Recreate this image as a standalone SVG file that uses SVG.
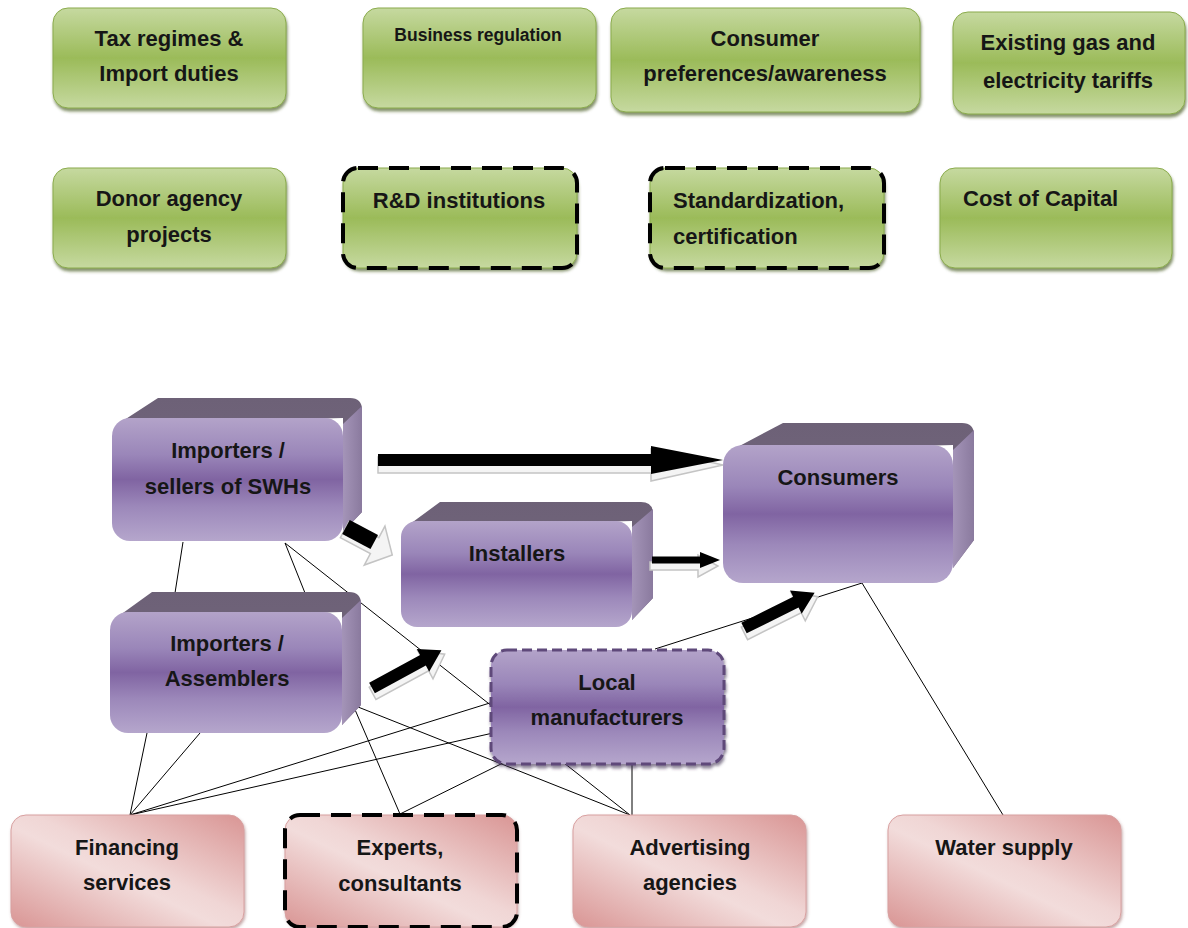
<svg xmlns="http://www.w3.org/2000/svg" width="1188" height="928" viewBox="0 0 1188 928">
<defs>
<style>
text{font-family:"Liberation Sans",Arial,sans-serif;font-weight:bold;font-size:22px;fill:#161616;}
.c{text-anchor:middle;}
.sm{font-size:17.5px;}
.g{fill:url(#gGreen);stroke:#8aab4c;stroke-width:1;filter:url(#shG);}
.p{fill:url(#gPink);stroke:#d8a0a0;stroke-width:1;filter:url(#shP);}
.dash{stroke:#000;stroke-width:4;stroke-dasharray:20 11;}
.front{fill:url(#gPurp);}
.top{fill:url(#gTop);}
.side{fill:url(#gSide);}
.ln{stroke:#000;stroke-width:1;fill:none;}
.ab{fill:#000;}
.as{fill:#f4f4f4;stroke:#c4c4c4;stroke-width:1.5;}
</style>
<linearGradient id="gGreen" x1="0" y1="0" x2="0" y2="1">
<stop offset="0" stop-color="#c6d9a0"/><stop offset="0.5" stop-color="#9bbb59"/><stop offset="1" stop-color="#c6d9a0"/>
</linearGradient>
<linearGradient id="gPink" x1="0" y1="1" x2="1" y2="0">
<stop offset="0" stop-color="#d99594"/><stop offset="0.45" stop-color="#f2dcdb"/><stop offset="0.55" stop-color="#f0d6d5"/><stop offset="1" stop-color="#d99594"/>
</linearGradient>
<linearGradient id="gPurp" x1="0" y1="0" x2="0" y2="1">
<stop offset="0" stop-color="#b3a3c9"/><stop offset="0.3" stop-color="#9a86b9"/><stop offset="0.5" stop-color="#8064a2"/><stop offset="0.72" stop-color="#9c88ba"/><stop offset="1" stop-color="#b5a6cc"/>
</linearGradient>
<linearGradient id="gTop" x1="0" y1="0" x2="0" y2="1">
<stop offset="0" stop-color="#6d6177"/><stop offset="1" stop-color="#75687f"/>
</linearGradient>
<linearGradient id="gSide" x1="0" y1="0" x2="1" y2="0">
<stop offset="0" stop-color="#a494b8"/><stop offset="1" stop-color="#8a7a9e"/>
</linearGradient>
<filter id="shG" x="-5%" y="-5%" width="112%" height="120%">
<feDropShadow dx="1" dy="3" stdDeviation="1.5" flood-color="#4f6228" flood-opacity="0.7"/>
</filter>
<filter id="shP" x="-5%" y="-5%" width="112%" height="120%">
<feDropShadow dx="1" dy="2" stdDeviation="1.5" flood-color="#8a5050" flood-opacity="0.5"/>
</filter>
<filter id="shL" x="-5%" y="-5%" width="112%" height="120%">
<feDropShadow dx="1" dy="3" stdDeviation="1.5" flood-color="#3f3151" flood-opacity="0.6"/>
</filter>
</defs>
<rect width="1188" height="928" fill="#fff"/>

<g id="connectors">
<line class="ln" x1="183" y1="542" x2="175" y2="593"/>
<line class="ln" x1="285" y1="543" x2="305" y2="593"/>
<line class="ln" x1="285" y1="543" x2="630" y2="815"/>
<line class="ln" x1="147" y1="733" x2="130" y2="815"/>
<line class="ln" x1="200" y1="733" x2="130" y2="815"/>
<line class="ln" x1="493" y1="702" x2="130" y2="815"/>
<line class="ln" x1="493" y1="733" x2="130" y2="815"/>
<line class="ln" x1="353" y1="705" x2="400" y2="814"/>
<line class="ln" x1="353" y1="705" x2="630" y2="815"/>
<line class="ln" x1="505" y1="762" x2="400" y2="814"/>
<line class="ln" x1="632" y1="764" x2="632" y2="815"/>
<line class="ln" x1="655" y1="649" x2="862" y2="583"/>
<line class="ln" x1="862" y1="583" x2="1003" y2="815"/>
</g>

<g id="tax">
<rect class="g" x="53" y="8" width="233" height="100" rx="15"/>
<text class="c" x="169" y="46">Tax regimes &amp;</text>
<text class="c" x="169" y="81">Import duties</text>
</g>
<g id="business">
<rect class="g" x="363" y="8" width="233" height="100" rx="15"/>
<text class="c sm" x="478" y="41">Business regulation</text>
</g>
<g id="consumer-pref">
<rect class="g" x="611" y="8" width="309" height="104" rx="15"/>
<text class="c" x="765" y="46">Consumer</text>
<text class="c" x="765" y="81">preferences/awareness</text>
</g>
<g id="tariffs">
<rect class="g" x="953" y="12" width="232" height="102" rx="15"/>
<text class="c" x="1068" y="50">Existing gas and</text>
<text class="c" x="1068" y="88">electricity tariffs</text>
</g>
<g id="donor">
<rect class="g" x="53" y="168" width="233" height="100" rx="15"/>
<text class="c" x="169" y="206">Donor agency</text>
<text class="c" x="169" y="242">projects</text>
</g>
<g id="rd">
<rect class="g" x="343" y="168" width="234" height="100" rx="15"/>
<rect x="343" y="168" width="234" height="100" rx="15" fill="none" class="dash"/>
<text class="c" x="459" y="208">R&amp;D institutions</text>
</g>
<g id="standard">
<rect class="g" x="650" y="168" width="234" height="100" rx="15"/>
<rect x="650" y="168" width="234" height="100" rx="15" fill="none" class="dash"/>
<text x="673" y="208">Standardization,</text>
<text x="673" y="244">certification</text>
</g>
<g id="capital">
<rect class="g" x="940" y="168" width="232" height="100" rx="15"/>
<text x="963" y="206">Cost of Capital</text>
</g>

<g id="sellers">
<path class="top" d="M118,424 L158,398 L350,398 Q362,398 362,410 L362,512 L343,532 L343,418 Z"/>
<path class="side" d="M343,424 L362,406 L362,512 L343,532 Z"/>
<rect class="front" x="112" y="418" width="231" height="123" rx="18"/>
<text class="c" x="228" y="458">Importers /</text>
<text class="c" x="228" y="494">sellers of SWHs</text>
</g>
<g id="installers">
<path class="top" d="M406,527 L440,502 L641,502 Q653,502 653,514 L653,598 L632,620 L632,521 Z"/>
<path class="side" d="M632,527 L653,509 L653,598 L632,620 Z"/>
<rect class="front" x="401" y="521" width="231" height="106" rx="16"/>
<text class="c" x="517" y="561">Installers</text>
</g>
<g id="consumers">
<path class="top" d="M730,451 L783,423 L962,423 Q974,423 974,435 L974,540 L953,568 L953,445 Z"/>
<path class="side" d="M953,450 L974,430 L974,540 L953,568 Z"/>
<rect class="front" x="723" y="445" width="230" height="138" rx="20"/>
<text class="c" x="838" y="485">Consumers</text>
</g>
<g id="assemblers">
<path class="top" d="M116,618 L152,592 L349,592 Q361,592 361,604 L361,705 L342,725 L342,612 Z"/>
<path class="side" d="M342,618 L361,600 L361,705 L342,725 Z"/>
<rect class="front" x="110" y="612" width="232" height="121" rx="18"/>
<text class="c" x="227" y="651">Importers /</text>
<text class="c" x="227" y="686">Assemblers</text>
</g>
<g id="local">
<rect x="491" y="650" width="233" height="114" rx="16" fill="url(#gPurp)" stroke="#5f497a" stroke-width="3" stroke-dasharray="10 5" filter="url(#shL)"/>
<text class="c" x="607" y="690">Local</text>
<text class="c" x="607" y="725">manufacturers</text>
</g>

<g id="financing">
<rect class="p" x="11" y="815" width="233" height="112" rx="15"/>
<text class="c" x="127" y="855">Financing</text>
<text class="c" x="127" y="890">services</text>
</g>
<g id="experts">
<rect class="p" x="285" y="815" width="232" height="112" rx="15"/>
<rect x="285" y="815" width="232" height="112" rx="15" fill="none" class="dash"/>
<text class="c" x="400" y="855">Experts,</text>
<text class="c" x="400" y="891">consultants</text>
</g>
<g id="advertising">
<rect class="p" x="573" y="815" width="233" height="112" rx="15"/>
<text class="c" x="690" y="855">Advertising</text>
<text class="c" x="690" y="890">agencies</text>
</g>
<g id="water">
<rect class="p" x="888" y="815" width="233" height="112" rx="15"/>
<text class="c" x="1004" y="855">Water supply</text>
</g>

<g id="flow-arrows">
<g transform="translate(378,460)">
<polygon class="as" points="0,-3 273,-3 273,-11 345,5 273,21 273,13 0,13"/>
<polygon class="ab" points="0,-6 273,-6 273,-14 345,0 273,14 273,6 0,6"/>
</g>
<g transform="translate(346,527) rotate(28)">
<polygon class="as" points="0,-6 34,-6 34,-19 54,3 34,25 34,12 0,12"/>
<polygon class="ab" points="0,-8 32,-8 32,8 0,8"/>
</g>
<g transform="translate(652,560)">
<polygon class="as" points="-2,2 46,2 46,-5 66,6 46,17 46,10 -2,10"/>
<polygon class="ab" points="0,-3.5 48,-3.5 48,-8 68,0 48,8 48,3.5 0,3.5"/>
</g>
<g transform="translate(372,688) rotate(-28.5)">
<polygon class="as" points="-2,-2 58,-2 58,-11 80,5 58,21 58,12 -2,12"/>
<polygon class="ab" points="0,-6 58,-6 58,-13 79,0 58,13 58,6 0,6"/>
</g>
<g transform="translate(744,628) rotate(-26.6)">
<polygon class="as" points="-2,-2 58,-2 58,-11 80,5 58,21 58,12 -2,12"/>
<polygon class="ab" points="0,-6 58,-6 58,-13 79,0 58,13 58,6 0,6"/>
</g>
</g>
</svg>
